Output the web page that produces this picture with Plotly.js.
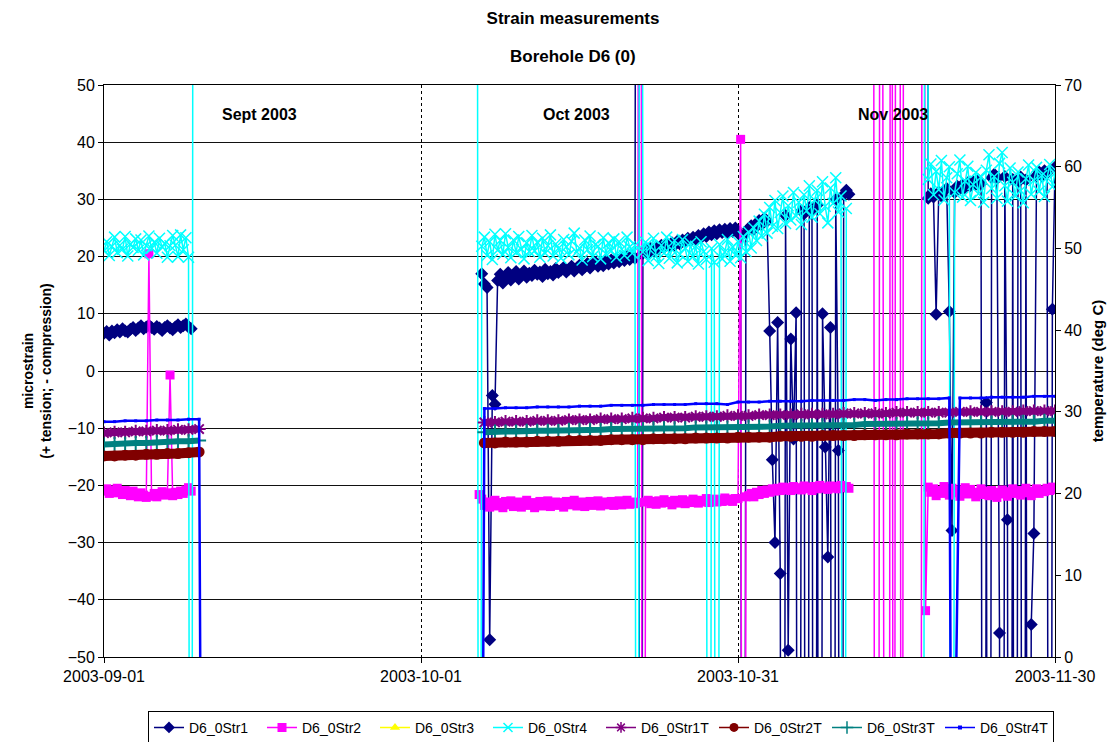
<!DOCTYPE html>
<html><head><meta charset="utf-8">
<script src="https://cdn.plot.ly/plotly-3.0.1.min.js"></script>
<style>html,body{margin:0;padding:0;background:#fff;}#chart{width:1114px;height:742px;}</style>
</head><body><div id="chart"></div>
<script>
// ---------------- data ----------------
const seriesNames = ['D6_0Str1','D6_0Str2','D6_0Str3','D6_0Str4','D6_0Str1T','D6_0Str2T','D6_0Str3T','D6_0Str4T'];
const tickDates = ['2003-09-01','2003-10-01','2003-10-31','2003-11-30'];
const monthLabels = ['Sept 2003','Oct 2003','Nov 2003'];
const monthLabelDates = ['2003-09-15 18:00','2003-10-15 18:00','2003-11-14 16:00'];

// strain readings (microstrain), 6-hourly, per logging segment
const str1_sepStart = '2003-09-01 00:00';
const str1_sep = [6.6,6.9,6.3,7.0,6.7,7.2,6.8,7.4,7.0,6.8,7.3,7.6,7.1,7.5,7.9,7.4,7.7,8.0,7.6,7.3,7.8,7.5,7.1,7.6,7.9,7.5,7.2,7.7,8.1,7.6,7.9,8.2,7.7,7.4];
const str1_octStart = '2003-10-06 18:00';
const str1_oct = [17.0,15.2,14.6,-47.0,-4.3,-5.8,
 15.8,16.9,15.4,16.3,17.2,15.9,16.6,17.4,16.1,16.8,
 17.5,16.4,17.1,16.7,17.6,16.9,17.3,16.5,17.8,17.0,
 17.4,16.8,17.9,17.2,17.6,18.1,17.3,17.8,18.3,17.5,
 18.0,18.5,17.7,18.2,18.8,18.0,18.6,19.0,18.3,18.9,
 18.4,19.2,18.7,19.4,18.9,19.6,19.1,19.8,19.3,20.0,19.5,20.2,19.7,
 300,-300,
 20.6,21.2,20.6,21.4,21.0,21.7,21.3,22.0,21.6,22.2,
 21.8,22.4,22.0,22.7,22.2,22.9,22.5,23.2,22.8,23.4,
 23.0,23.7,23.3,24.0,23.5,24.3,23.8,24.5,24.0,24.7,
 24.2,24.8,24.1,24.9,24.4,25.0,
 24.3,23.6,-300,24.2,24.9,25.4,24.8,25.8,26.3,25.6,26.7,26.2,7.0,-15.5,-30.0,8.5,-35.4,-300,27.2,-48.8,5.6,-11.9,10.2,-300,28.0,27.5,-300,28.6,28.1,-300,29.0,-300,10.0,-13.3,-32.5,7.6,-300,30.0,-13.9,-300,30.8,31.6,30.9];
const str1_novStart = '2003-11-17 18:00';
const str1_nov = [300,30.2,31.0,30.4,9.9,31.3,30.6,31.5,31.9,10.4,-27.9,31.2,32.3,31.8,32.6,32.0,32.9,32.4,33.1,32.6,33.4,32.8,-300,-5.5,-300,33.8,34.4,33.6,-45.8,-300,34.0,-26.0,-300,33.5,-300,33.0,33.9,-300,33.4,-300,-44.3,-28.4,34.2,34.8,34.1,35.0,34.6,-300,10.8,35.6];

const str2_sepStart = '2003-09-01 00:00';
const str2_sep = [-21.0,-20.6,-21.4,-20.8,-21.3,-20.5,-21.1,-21.6,-20.9,-21.2,-21.8,-21.0,-21.5,-22.0,-21.3,-21.7,-22.1,20.5,-21.9,-21.4,-22.0,-21.6,-21.1,-21.7,-21.3,-0.7,-21.8,-21.2,-21.6,-21.0,-21.4,-20.8,-20.4,-21.0];
const str2_octStart = '2003-10-06 12:00';
const str2_oct = [-21.6,
 -22.4,-23.5,-22.9,-23.8,-23.1,-22.6,-23.6,-23.0,-23.9,-22.8,
 -23.4,-22.7,-23.7,-23.2,-22.9,-23.8,-23.3,-22.6,-23.5,-23.0,
 -23.9,-23.2,-22.8,-23.6,-23.1,-22.7,-23.7,-23.3,-22.9,-23.5,
 -23.0,-23.8,-22.8,-23.4,-23.1,-22.6,-23.6,-23.2,-22.9,-23.7,
 -23.3,-22.8,-23.5,-23.0,-22.7,-23.6,-23.2,-22.9,-23.4,-22.8,
 -23.5,-23.1,-22.7,-23.4,-23.0,-22.6,-23.3,-22.9,-23.2,
 -23.0,300,-300,-22.9,
 -22.6,-23.2,-22.8,-23.3,-22.7,-23.1,-22.5,-23.0,-22.8,-23.4,
 -22.6,-23.1,-22.9,-22.5,-23.2,-22.7,-23.0,-22.4,-22.9,-23.1,
 -22.6,-22.9,-22.3,-23.0,-22.7,-22.4,-22.9,-22.5,-22.8,-22.2,
 -22.7,-22.4,-22.8,-22.3,
 -22.3,40.5,-300,-22.0,
 -21.8,-21.4,-22.0,-21.2,-21.6,-20.9,-21.4,-20.8,-21.2,-20.6,
 -21.0,-20.5,-20.9,-20.3,-20.8,-20.4,-20.9,-20.2,-20.7,-20.4,
 -20.8,-20.1,-20.6,-20.3,-20.9,-20.2,-20.6,-20.0,-20.5,-20.3,
 -20.7,-20.1,-20.5,-20.2,-20.6,-20.0,-20.4,-20.2,-20.5];
const str2_gapStart = '2003-11-12 18:00';
const str2_gap = [300,-300,-300,300,-300,-300,-300,300,-300,300,300,-300,300];
const str2_novStart = '2003-11-17 06:00';
const str2_nov = [-300,300,-41.9,
 -20.3,-21.2,-20.6,-21.8,-20.9,-21.4,-20.2,-21.0,-21.7,-20.5,
 -21.3,-20.8,-21.9,-21.1,-20.4,-21.5,-20.7,-21.2,-22.0,-21.3,
 -20.6,-21.6,-21.0,-21.8,-20.9,-21.4,-22.1,-21.2,-20.8,-21.5,
 -21.9,-21.1,-20.6,-21.4,-20.9,-21.7,-21.2,-20.5,-21.3,-21.8,
 -21.0,-20.6,-21.4,-20.8,-21.1,-20.5,-20.9,-20.3,-20.7];

const str3 = []; // no readings plotted

const str4_sepStart = '2003-09-01 00:00';
const str4_sep = [21.0,22.6,20.2,21.8,23.4,20.7,22.0,21.3,23.5,20.1,22.2,21.6,23.1,21.1,22.9,20.3,21.9,23.6,21.4,22.5,20.6,23.2,21.7,22.3,19.9,21.9,23.7,22.0,20.0,23.8,21.2,23.3,19.9,-300,300];
const str4_octStart = '2003-10-06 06:00';
const str4_oct = [300,-300,
 21.8,23.4,20.2,22.6,19.5,23.9,21.1,22.8,20.4,24.0,
 21.6,19.8,22.9,20.7,23.5,21.3,19.6,22.4,20.9,23.7,
 21.0,22.5,19.9,23.2,20.6,21.9,23.8,20.1,22.2,21.4,
 19.7,23.0,21.7,20.3,22.7,24.1,20.8,21.5,19.4,22.9,
 21.2,23.6,20.0,22.1,21.8,19.6,23.3,20.5,22.4,21.0,
 23.1,19.9,22.6,21.3,20.2,23.4,21.7,20.6,22.0,
 -300,300,
 20.8,22.5,19.3,21.7,23.2,20.1,18.8,22.0,20.6,23.4,
 19.7,21.2,22.8,18.9,20.4,23.0,21.5,19.2,22.3,20.0,
 21.8,18.7,22.6,20.9,19.5,
 -300,21.4,19.0,-300,
 22.1,19.6,20.8,23.0,19.2,21.7,20.3,
 22.6,19.8,23.5,20.9,24.3,21.5,25.0,22.8,26.2,23.6,
 27.4,24.1,28.6,25.3,29.8,24.9,27.7,30.6,25.8,28.9,
 26.4,31.2,27.1,29.5,25.6,30.8,28.0,32.4,26.9,29.9,
 31.6,27.5,33.1,28.8,25.9,32.0,29.3,33.8,27.8,30.6,
 -300,28.4];
const str4_novStart = '2003-11-17 12:00';
const str4_nov = [-300,300,33.5,36.2,30.8,34.9,31.7,36.8,29.9,33.8,35.7,-300,31.2,34.5,36.9,30.4,33.2,35.8,29.8,32.6,34.7,31.0,33.9,29.5,35.1,37.8,31.9,34.0,30.2,36.3,38.2,32.4,29.7,35.5,33.0,30.6,34.8,31.5,29.4,33.6,36.0,30.9,33.3,35.6,31.4,34.2,30.5,33.8,36.1,32.2,34.6];

// temperatures (deg C), daily
const tempSepStart = '2003-09-01 00:00';
const tempOctStart = '2003-10-07 00:00';
const str1T_sep = [27.4,27.5,27.5,27.6,27.6,27.7,27.7,27.8,27.8,27.9];
const str1T_oct = [28.7,28.7,28.8,28.8,28.8,28.9,28.9,28.9,29.0,29.0,29.0,29.1,29.1,29.1,29.2,29.2,29.2,29.3,29.3,29.3,29.4,29.4,29.4,29.5,29.5,29.5,29.6,29.6,29.6,29.6,29.7,29.7,29.7,29.7,29.8,29.8,29.8,29.8,29.8,29.9,29.9,29.9,29.9,29.9,29.9,30.0,30.0,30.0,30.0,30.0,30.0,30.1,30.1,30.1,30.1];
const str2T_sep = [24.6,24.6,24.7,24.7,24.8,24.8,24.9,24.9,25.0,25.1];
const str2T_oct = [26.2,26.2,26.3,26.3,26.3,26.4,26.4,26.4,26.5,26.5,26.5,26.5,26.6,26.6,26.6,26.6,26.7,26.7,26.7,26.7,26.8,26.8,26.8,26.8,26.9,26.9,26.9,26.9,27.0,27.0,27.0,27.0,27.1,27.1,27.1,27.1,27.2,27.2,27.2,27.2,27.3,27.3,27.3,27.3,27.4,27.4,27.4,27.4,27.5,27.5,27.5,27.5,27.6,27.6,27.6];
const str3T_sep = [26.0,26.1,26.1,26.2,26.2,26.3,26.3,26.4,26.4,26.5];
const str3T_oct = [27.5,27.6,27.6,27.6,27.7,27.7,27.7,27.7,27.8,27.8,27.8,27.8,27.9,27.9,27.9,27.9,28.0,28.0,28.0,28.0,28.1,28.1,28.1,28.1,28.2,28.2,28.2,28.2,28.3,28.3,28.3,28.3,28.4,28.4,28.4,28.4,28.5,28.5,28.5,28.5,28.6,28.6,28.6,28.6,28.7,28.7,28.7,28.7,28.7,28.8,28.8,28.8,28.8,28.9,28.9];
const str4T_sep = [28.8,28.8,28.9,28.9,28.9,29.0,29.0,29.0,29.1,29.1];
const str4T_oct = [30.4,30.4,30.5,30.5,30.5,30.6,30.6,30.6,30.6,30.7,30.7,30.7,30.8,30.8,30.8,30.8,30.9,30.9,30.9,30.9,31.0,31.0,31.0,30.9,31.2,31.2,31.2,31.3,31.3,31.3,31.3,31.4,31.4,31.4,31.4,31.5,31.5,31.4,31.5,31.5,31.6,31.6,31.6,31.6,31.7,31.7,31.7,31.7,31.8,31.8,31.8,31.8,31.9,31.9,31.9];
const str4T_dropTimes = ['2003-09-10 06:00','2003-10-06 18:00','2003-11-20 06:00'];
const str4T_dropVals = [-40,-40,-40];

// ---------------- helpers ----------------
const HOUR = 3600e3;
function toMs(s){ return Date.parse(s.replace(' ','T') + ':00Z'); }
function fmt(ms){ return new Date(ms).toISOString().slice(0,16).replace('T',' '); }
function seg(start, stepH, vals){ const t0 = toMs(start); return vals.map((v,i)=>({t:t0 + i*stepH*HOUR, v:v})); }
function joinSegs(segs){
  const x=[], y=[];
  segs.forEach((s,k)=>{
    if(k>0 && s.length){ x.push(fmt(s[0].t - HOUR)); y.push(null); }
    s.forEach(p=>{ x.push(fmt(p.t)); y.push(p.v); });
  });
  return {x, y};
}
function mergeSorted(lists){
  const all = [].concat(...lists).sort((a,b)=>a.t-b.t);
  return {x: all.map(p=>fmt(p.t)), y: all.map(p=>p.v)};
}

const S1 = joinSegs([seg(str1_sepStart,6,str1_sep), seg(str1_octStart,6,str1_oct), seg(str1_novStart,6,str1_nov)]);
const S2 = joinSegs([seg(str2_sepStart,6,str2_sep), seg(str2_octStart,6,str2_oct), seg(str2_gapStart,6,str2_gap), seg(str2_novStart,6,str2_nov)]);
const S4 = joinSegs([seg(str4_sepStart,6,str4_sep), seg(str4_octStart,6,str4_oct), seg(str4_novStart,6,str4_nov)]);
const T1 = joinSegs([seg(tempSepStart,24,str1T_sep), seg(tempOctStart,24,str1T_oct)]);
const T2 = joinSegs([seg(tempSepStart,24,str2T_sep), seg(tempOctStart,24,str2T_oct)]);
const T3 = joinSegs([seg(tempSepStart,24,str3T_sep), seg(tempOctStart,24,str3T_oct)]);
const T4 = mergeSorted([seg(tempSepStart,24,str4T_sep), seg(tempOctStart,24,str4T_oct),
  str4T_dropTimes.map((d,i)=>({t:toMs(d), v:str4T_dropVals[i]}))]);

const colors = ['#000080','#FF00FF','#FFFF00','#00FFFF','#800080','#800000','#008080','#0000FF'];
const symbols = ['diamond','square','triangle-up','x-thin-open','asterisk-open','circle','cross-thin-open','square'];

const traces = [];
// data traces (not in legend)
traces.push({x:S1.x, y:S1.y, mode:'lines+markers', showlegend:false, hoverinfo:'skip',
  line:{color:colors[0], width:1.5}, marker:{symbol:'diamond', size:10, color:colors[0]}});
traces.push({x:S2.x, y:S2.y, mode:'lines+markers', showlegend:false, hoverinfo:'skip',
  line:{color:colors[1], width:1.5}, marker:{symbol:'square', size:9, color:colors[1]}});
traces.push({x:S4.x, y:S4.y, mode:'lines+markers', showlegend:false, hoverinfo:'skip',
  line:{color:colors[3], width:1.5}, marker:{symbol:'x-thin-open', size:11, color:colors[3], line:{color:colors[3], width:1.5}}});
traces.push({x:T1.x, y:T1.y, yaxis:'y2', mode:'lines+markers', showlegend:false, hoverinfo:'skip',
  line:{color:colors[4], width:7}, marker:{symbol:'asterisk-open', size:11, color:colors[4], line:{color:colors[4], width:2}}});
traces.push({x:T3.x, y:T3.y, yaxis:'y2', mode:'lines+markers', showlegend:false, hoverinfo:'skip',
  line:{color:colors[6], width:6}, marker:{symbol:'cross-thin-open', size:10, color:colors[6], line:{color:colors[6], width:2}}});
traces.push({x:T2.x, y:T2.y, yaxis:'y2', mode:'lines+markers', showlegend:false, hoverinfo:'skip',
  line:{color:colors[5], width:10}, marker:{symbol:'circle', size:11, color:colors[5]}});
traces.push({x:T4.x, y:T4.y, yaxis:'y2', mode:'lines+markers', showlegend:false, hoverinfo:'skip',
  line:{color:colors[7], width:2.5}, marker:{symbol:'square', size:3, color:colors[7]}});
// legend entries
seriesNames.forEach((n,i)=>{
  traces.push({x:[null], y:[null], name:n, mode:'lines+markers', hoverinfo:'skip',
    line:{color:colors[i], width:1.5},
    marker:{symbol:symbols[i], size: i===7 ? 4 : 9, color:colors[i],
      line:{color:colors[i], width: symbols[i].indexOf('open')>=0 ? 1.5 : 0}}});
});

const annotations = monthLabels.map((t,i)=>({text:t, x:monthLabelDates[i], y:44.8, xref:'x', yref:'y',
  showarrow:false, font:{size:16, weight:'bold', color:'#000'}}));
annotations.push({text:'Borehole D6 (0)', xref:'paper', yref:'paper', x:0.493, y:1.07, showarrow:false,
  font:{size:17, weight:'bold', color:'#000'}});

const layout = {
  width:1114, height:742,
  margin:{l:104, r:59, t:85, b:85},
  paper_bgcolor:'#fff', plot_bgcolor:'#fff',
  font:{family:'Liberation Sans, Arial, sans-serif', size:15, color:'#000'},
  title:{text:'Strain measurements', font:{size:17, weight:'bold'}, xref:'container', x:0.5144, y:0.9757, yanchor:'middle'},
  xaxis:{type:'date', range:['2003-09-01','2003-11-30'], tickvals:tickDates, ticktext:tickDates,
    showgrid:true, gridcolor:'#000', gridwidth:1, griddash:'dot', showline:true, mirror:true,
    linecolor:'#000', linewidth:1, ticks:'outside', ticklen:5, tickcolor:'#000', zeroline:false,
    tickfont:{size:16}},
  yaxis:{range:[-50,50], tick0:0, dtick:10, showgrid:true, gridcolor:'#111', gridwidth:1, zeroline:false,
    showline:true, linecolor:'#000', ticks:'outside', ticklen:5, tickcolor:'#000', tickfont:{size:16},
    title:{text:'microstrain<br>(+ tension; - compression)', font:{size:14, weight:'bold'}, standoff:12}},
  yaxis2:{overlaying:'y', side:'right', range:[0,70], tick0:0, dtick:10, showgrid:false, zeroline:false,
    showline:true, linecolor:'#000', ticks:'outside', ticklen:5, tickcolor:'#000', tickfont:{size:16},
    title:{text:'temperature (deg C)', font:{size:15, weight:'bold'}}},
  legend:{orientation:'h', xref:'container', yref:'container', x:0.5395, xanchor:'center', y:0.042, yanchor:'top',
    bordercolor:'#000', borderwidth:1,
    font:{size:14}, entrywidth:68, entrywidthmode:'pixels', itemwidth:30, bgcolor:'#fff', tracegroupgap:0},
  annotations:annotations,
  showlegend:true
};

Plotly.newPlot('chart', traces, layout, {displayModeBar:false, staticPlot:true});
</script>
</body></html>
